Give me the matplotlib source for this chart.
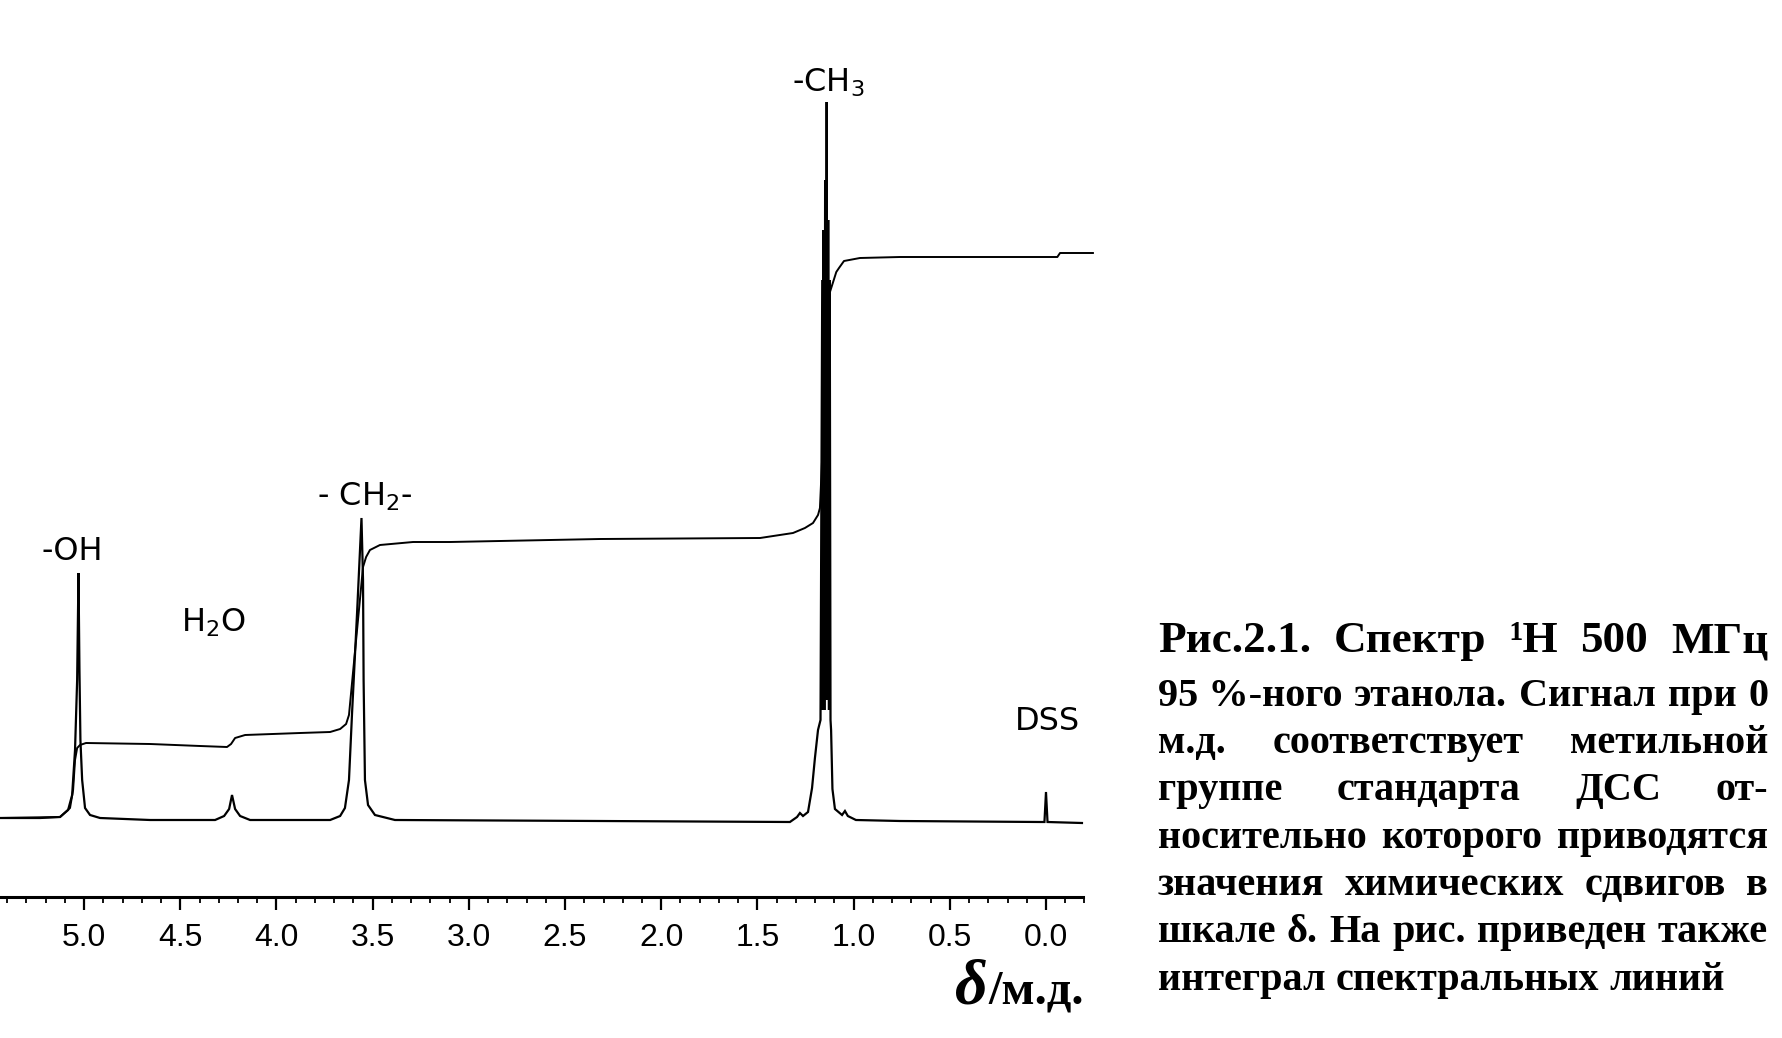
import matplotlib
matplotlib.use("Agg")
import matplotlib.pyplot as plt
import matplotlib.transforms as mtransforms
from matplotlib.ticker import FixedLocator, FixedFormatter

# ---------------- data ----------------
# spectrum trace (chemical shift in ppm, intensity in arbitrary units)
SHIFT_PPM = [5.437, 5.229, 5.125, 5.083, 5.062, 5.047, 5.036, 5.029, 5.024, 5.019,
             5.010, 4.995, 4.969, 4.917, 4.657, 4.319, 4.272, 4.246, 4.231, 4.215,
             4.189, 4.137, 3.721, 3.669, 3.644, 3.623, 3.607, 3.581, 3.558, 3.550,
             3.547, 3.540, 3.524, 3.488, 3.384, 2.318, 1.331, 1.294, 1.279, 1.263,
             1.237, 1.216, 1.201, 1.185, 1.172, 1.163, 1.160, 1.156, 1.152, 1.148,
             1.144, 1.140, 1.136, 1.132, 1.128, 1.124, 1.120, 1.117, 1.110, 1.097,
             1.060, 1.045, 1.030, 0.988, 0.759, 0.031, 0.008, 0.000, -0.008, -0.187]
INTENSITY = [2, 2, 3, 10, 25, 70, 140, 247, 150, 80,
             40, 12, 5, 2, 0, 0, 4, 11, 25, 11,
             4, 0, 0, 4, 12, 40, 107, 207, 302, 240,
             140, 40, 15, 5, 0, -1, -2, 3, 7, 4,
             8, 32, 62, 90, 100, 540, 110, 590, 110, 640,
             120, 718, 120, 600, 110, 540, 100, 90, 31, 11,
             5, 9, 4, 0, -1, -2, -2, 28, -2, -3]

# integral trace
INTEGRAL_PPM = [5.437, 5.125, 5.073, 5.057, 5.047, 5.036, 5.021, 4.990, 4.657, 4.397,
                4.257, 4.236, 4.215, 4.163, 3.877, 3.721, 3.669, 3.638, 3.623, 3.586,
                3.550, 3.534, 3.514, 3.462, 3.290, 3.098, 2.318, 1.486, 1.315, 1.253,
                1.211, 1.185, 1.175, 1.150, 1.136, 1.090, 1.076, 1.050, 0.967, 0.759,
                -0.059, -0.073, -0.244]
INTEGRAL = [2, 3, 12, 30, 60, 72, 75, 77, 76, 74,
            73, 76, 82, 85, 87, 88, 91, 96, 105, 180,
            253, 263, 270, 275, 278, 278, 281, 282, 287, 292,
            297, 305, 312, 420, 520, 548, 552, 559, 562, 563,
            563, 567, 567]

PEAK_LABELS = ["-CH$_3$", "- CH$_2$-", "-OH", "H$_2$O", "DSS"]
PEAK_LABEL_PPM = [1.132, 3.540, 5.062, 4.330, -0.005]
PEAK_LABEL_Y = [737, 323, 268, 197, 98]

MAJOR_TICKS = [0.0, 0.5, 1.0, 1.5, 2.0, 2.5, 3.0, 3.5, 4.0, 4.5, 5.0]
TICK_LABELS = ["0.0", "0.5", "1.0", "1.5", "2.0", "2.5", "3.0", "3.5", "4.0", "4.5", "5.0"]
MINOR_TICKS = [round(0.1 * i, 1) for i in range(-2, 55)]

AXIS_SYMBOL = "δ"
AXIS_UNIT = "/м.д."

CAPTION_LINES = [
    "Рис.2.1. Спектр ¹H 500 МГц",
    "95\u00a0%-ного этанола. Сигнал при 0",
    "м.д. соответствует метильной",
    "группе стандарта ДСС от-",
    "носительно которого приводятся",
    "значения химических сдвигов в",
    "шкале δ. На рис. приведен также",
    "интеграл спектральных линий",
]

# ---------------- layout ----------------
W, H = 1783, 1038
plt.rcParams["mathtext.fontset"] = "dejavusans"
plt.rcParams["mathtext.default"] = "regular"

fig = plt.figure(figsize=(W / 100, H / 100), dpi=100)
fig.patch.set_facecolor("white")
ax = fig.add_axes([0, 0, 1, 1])
ax.set_facecolor("none")
ax.set_xlim(5.437, -3.831)
ax.set_ylim(-218, 820)

ax.plot(SHIFT_PPM, INTENSITY, color="black", lw=1.6, solid_joinstyle="miter")
ax.plot(INTEGRAL_PPM, INTEGRAL, color="black", lw=1.4)

label_font = ["DejaVu Sans"]
for txt, px, py in zip(PEAK_LABELS, PEAK_LABEL_PPM, PEAK_LABEL_Y):
    ax.text(px, py, txt, ha="center", va="center", fontsize=23,
            family=label_font, color="black")

for s in ["top", "left", "right"]:
    ax.spines[s].set_visible(False)
ax.spines["bottom"].set_position(("data", -77))
ax.spines["bottom"].set_bounds(-0.19, 5.437)
ax.spines["bottom"].set_linewidth(2.2)
ax.yaxis.set_visible(False)
ax.xaxis.set_major_locator(FixedLocator(MAJOR_TICKS))
ax.xaxis.set_major_formatter(FixedFormatter(TICK_LABELS))
ax.xaxis.set_minor_locator(FixedLocator(MINOR_TICKS))
ax.tick_params(axis="x", which="major", direction="out", length=9.5, width=1.6,
               pad=9, labelsize=23)
ax.tick_params(axis="x", which="minor", direction="out", length=4.5, width=1.3)
for lab in ax.get_xticklabels():
    lab.set_fontfamily(["Liberation Sans", "DejaVu Sans"])

ident = mtransforms.IdentityTransform()
renderer = fig.canvas.get_renderer()
serif = ["Liberation Serif", "DejaVu Serif"]

# axis title: large delta followed by the unit
unit_txt = ax.text(-0.20, -183, AXIS_UNIT, ha="right", va="baseline", fontsize=35,
                   family=serif, fontweight="bold")
ux0 = unit_txt.get_window_extent(renderer).x0
_, uy = ax.transData.transform((-0.20, -183))
fig.text(ux0 - 1, uy, AXIS_SYMBOL, ha="right", va="baseline", fontsize=46,
         family=serif, fontweight="bold", style="italic", transform=ident)

# ---------------- justified caption ----------------
X0, X1 = 1158, 1768
BASELINES = [652, 706, 753, 800, 848, 895, 942, 990]


def measure(words, fs):
    tmp = [fig.text(0, 0, w, fontsize=fs, family=serif, fontweight="bold",
                    transform=ident) for w in words]
    ws = [t.get_window_extent(renderer).width for t in tmp]
    for t in tmp:
        t.remove()
    return ws


body_fs = 29.0
for line in CAPTION_LINES[1:7]:
    words = line.split(" ")
    ws = measure(words, body_fs)
    need = sum(ws) + (len(words) - 1) * 0.18 * body_fs * 100 / 72
    if need > (X1 - X0):
        body_fs *= (X1 - X0) / need
first_fs = body_fs * 1.12

for i, line in enumerate(CAPTION_LINES):
    fs = first_fs if i == 0 else body_fs
    words = line.split(" ")
    ws = measure(words, fs)
    y = H - BASELINES[i]
    if i == len(CAPTION_LINES) - 1:
        gap = 0.25 * fs * 100 / 72
    else:
        gap = (X1 - X0 - sum(ws)) / (len(words) - 1)
    x = X0
    for w, wd in zip(words, ws):
        fig.text(x, y, w, fontsize=fs, family=serif, fontweight="bold",
                 transform=ident, ha="left", va="baseline")
        x += wd + gap

fig.savefig("out.png", dpi=100, facecolor="white")
